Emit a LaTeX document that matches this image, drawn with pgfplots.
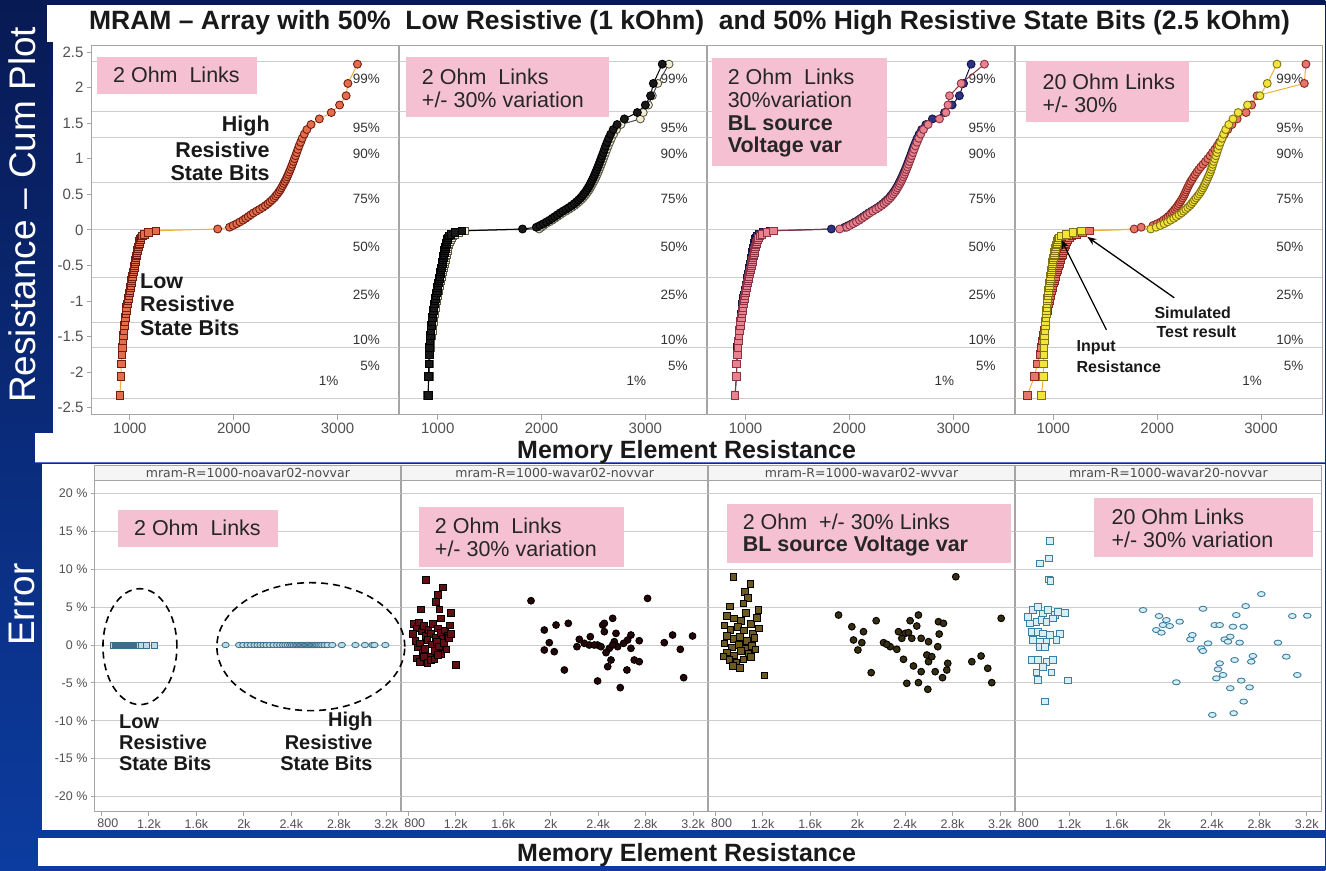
\documentclass[border=0pt]{standalone}
\usepackage{fontspec}
\setmainfont{Liberation Sans}
\newfontfamily\dejavu{DejaVu Sans}
\usepackage{pgfplots}
\pgfplotsset{compat=1.18}
\usepackage{pgfplotstable}
\usetikzlibrary{arrows.meta}

\definecolor{navyA}{RGB}{8,26,84}
\definecolor{navyB}{RGB}{12,60,160}
\definecolor{bline}{RGB}{80,115,200}
\definecolor{linkpink}{RGB}{245,192,210}
\definecolor{gridgray}{RGB}{205,205,205}
\definecolor{framegray}{RGB}{165,165,165}
\definecolor{tickgray}{RGB}{80,80,80}
\definecolor{or1}{RGB}{228,110,74}
\definecolor{or1d}{RGB}{115,28,18}
\definecolor{or1l}{RGB}{240,176,64}
\definecolor{cream}{RGB}{243,238,212}
\definecolor{creamd}{RGB}{90,90,70}
\definecolor{nv}{RGB}{44,50,130}
\definecolor{nvd}{RGB}{20,22,70}
\definecolor{pk}{RGB}{232,130,140}
\definecolor{pkd}{RGB}{140,50,70}
\definecolor{yl}{RGB}{242,228,58}
\definecolor{yld}{RGB}{130,115,20}
\definecolor{sal}{RGB}{228,118,108}
\definecolor{sald}{RGB}{140,40,30}
\definecolor{lb}{RGB}{184,220,232}
\definecolor{lbd}{RGB}{58,110,138}
\definecolor{mar}{RGB}{96,16,18}
\definecolor{olv}{RGB}{110,90,30}
\definecolor{vlb}{RGB}{216,238,245}
\definecolor{vlbd}{RGB}{60,126,160}

% cumulative plot: q = normal quantile, a = panel 1, b1/b2 panel 2 (black/cream),
% c1/c2 panel 3 (navy/pink), d1/d2 panel 4 (yellow input / pink simulated), z = error of panel 1
\pgfplotstableread{
q a b1 b2 c1 c2 d1 d2 z
-2.3301 904 911 904 900 897 885 750 0
-2.0591 915 911 918 912 913 904 817 0
-1.8860 918 914 922 916 915 906 846 0
-1.7559 925 918 926 921 920 908 870 0
-1.6502 928 921 930 925 926 910 885 0
-1.5601 935 926 936 930 932 913 895 0
-1.4813 940 931 942 936 938 916 905 0
-1.4107 945 936 948 941 944 919 912 0
-1.3465 948 940 953 945 949 922 918 0
-1.2875 952 945 958 950 954 925 924 0
-1.2325 958 950 963 955 959 928 930 0
-1.1811 962 955 968 960 964 931 936 0
-1.1327 966 960 973 964 969 934 942 0
-1.0867 970 965 978 968 974 937 948 0
-1.0429 975 970 983 973 979 940 954 0
-1.0011 980 975 988 978 984 943 960 0
-0.9610 985 980 993 983 989 946 966 0
-0.9223 990 985 998 988 994 949 972 0
-0.8849 995 990 1003 993 999 952 978 0
-0.8488 1000 995 1008 998 1004 955 984 0
-0.8137 1005 1000 1013 1003 1009 958 990 0
-0.7797 1010 1004 1018 1008 1014 961 996 0
-0.7464 1014 1008 1023 1012 1019 964 1002 0
-0.7140 1018 1012 1028 1016 1024 967 1008 0
-0.6824 1022 1016 1033 1020 1029 970 1014 0
-0.6513 1026 1020 1038 1024 1034 973 1020 0
-0.6209 1030 1024 1043 1028 1039 976 1026 0
-0.5911 1034 1028 1048 1032 1044 979 1032 0
-0.5618 1038 1032 1052 1036 1048 982 1038 0
-0.5330 1042 1036 1056 1040 1052 985 1044 0
-0.5047 1046 1040 1060 1044 1056 988 1050 0
-0.4766 1050 1044 1064 1048 1060 991 1056 0
-0.4490 1053 1047 1068 1051 1064 994 1062 0
-0.4217 1056 1050 1072 1054 1068 997 1068 0
-0.3947 1060 1054 1076 1058 1072 1000 1074 0
-0.3680 1063 1057 1080 1061 1076 1004 1080 0
-0.3416 1067 1061 1084 1065 1080 1008 1086 0
-0.3154 1070 1064 1088 1068 1084 1012 1092 0
-0.2894 1074 1068 1092 1072 1088 1016 1098 0
-0.2636 1078 1072 1096 1076 1092 1020 1104 0
-0.2380 1082 1076 1100 1080 1096 1024 1110 0
-0.2125 1086 1080 1105 1084 1101 1028 1116 0
-0.1873 1090 1084 1110 1088 1106 1033 1122 0
-0.1621 1095 1088 1116 1093 1112 1038 1130 0
-0.1370 1100 1093 1122 1098 1118 1044 1140 0
-0.1119 1108 1100 1130 1105 1126 1055 1155 0
-0.0870 1120 1110 1142 1115 1138 1080 1180 0
-0.0621 1140 1128 1165 1135 1160 1125 1220 0
-0.0372 1180 1165 1205 1175 1205 1190 1280 0
-0.0124 1250 1235 1262 1240 1269 1270 1350 0
0.0124 1846 1817 1978 1827 1907 1939 1779 0
0.0372 1960 1950 2000 1955 1975 1990 1846 0
0.0621 1995 1985 2020 1990 2005 2030 1960 0
0.0870 2030 2018 2045 2025 2038 2067 2000 0
0.1119 2060 2048 2075 2055 2068 2100 2035 0
0.1370 2090 2078 2105 2085 2098 2130 2060 0
0.1621 2115 2103 2130 2110 2122 2160 2085 0
0.1873 2140 2128 2155 2135 2147 2185 2105 0
0.2125 2165 2153 2180 2160 2172 2210 2125 0
0.2380 2190 2178 2205 2185 2197 2235 2140 0
0.2636 2220 2206 2235 2214 2226 2255 2155 0
0.2894 2250 2236 2265 2244 2256 2275 2170 0
0.3154 2280 2264 2293 2273 2285 2295 2185 0
0.3416 2305 2290 2318 2298 2310 2315 2198 0
0.3680 2330 2315 2342 2322 2334 2330 2210 0
0.3947 2350 2336 2362 2343 2355 2345 2222 0
0.4217 2370 2356 2382 2363 2375 2360 2234 0
0.4490 2390 2376 2401 2383 2394 2375 2246 0
0.4766 2405 2392 2416 2398 2410 2390 2256 0
0.5047 2420 2407 2431 2413 2425 2405 2265 0
0.5330 2435 2422 2446 2428 2440 2418 2274 0
0.5618 2448 2436 2459 2441 2453 2430 2283 0
0.5911 2460 2448 2471 2453 2465 2442 2292 0
0.6209 2472 2460 2483 2465 2477 2452 2302 0
0.6513 2483 2471 2494 2476 2488 2462 2313 0
0.6824 2494 2482 2505 2487 2499 2472 2325 0
0.7140 2505 2493 2516 2498 2510 2482 2338 0
0.7464 2515 2503 2526 2508 2520 2492 2352 0
0.7797 2525 2513 2536 2518 2530 2502 2367 0
0.8137 2535 2523 2546 2528 2540 2512 2383 0
0.8488 2545 2533 2556 2538 2550 2520 2400 0
0.8849 2555 2543 2566 2548 2560 2528 2420 0
0.9223 2565 2553 2576 2558 2570 2536 2442 0
0.9610 2575 2563 2586 2568 2580 2545 2465 0
1.0011 2585 2573 2596 2578 2590 2555 2488 0
1.0429 2596 2584 2607 2589 2601 2565 2510 0
1.0867 2607 2595 2618 2600 2612 2575 2532 0
1.1327 2618 2606 2630 2611 2624 2585 2555 0
1.1811 2630 2618 2643 2623 2637 2597 2578 0
1.2325 2645 2632 2658 2638 2652 2610 2600 0
1.2875 2660 2647 2674 2653 2668 2625 2625 0
1.3465 2680 2666 2695 2672 2688 2640 2648 0
1.4107 2705 2690 2722 2697 2714 2660 2680 0
1.4813 2745 2728 2765 2738 2758 2690 2720 0
1.5601 2825 2798 2952 2800 2868 2730 2770 0
1.6502 2940 2923 2980 2917 2930 2780 2856 0
1.7559 3020 3000 3030 2990 2950 2870 2910 0
1.8860 3083 3050 3067 3060 2965 2990 2962 0
2.0591 3100 3077 3120 3100 3077 3060 3417 0
2.3301 3192 3163 3228 3173 3301 3154 3433 0
}\toptab

% error panel 2 (2 Ohm +/-30%): low bits (squares) and high bits (circles)
\pgfplotstableread{
R e
950 8.6
1090 7.6
1048 6.6
1034 5.7
908 4.7
1062 4.7
1160 4.2
1076 3.5
1201 -2.6
850 2.8
870 2.2
890 3.0
910 1.8
930 2.5
950 1.2
970 2.0
990 1.5
1010 2.8
1030 1.0
1050 2.2
1070 1.6
1090 0.8
1110 1.9
1130 1.2
1150 2.6
860 0.5
880 -0.3
900 0.2
920 -1.0
940 -0.5
960 0.7
980 -1.5
1000 0.1
1020 -0.8
1040 0.4
1060 -0.2
1080 -1.2
1100 0.3
1120 -0.6
1140 0.9
870 -1.8
900 -2.2
930 -1.6
960 -2.4
990 -2.0
1020 -1.9
1050 -1.3
1160 1.5
840 1.5
}\etwosq
\pgfplotstableread{
R e
1834 5.85
2816 6.16
1946 1.98
2045 2.64
2148 2.86
1988 0.31
1946 -0.66
2030 -0.88
2115 -3.30
2241 0.75
2221 -0.22
2334 1.10
2325 0.00
2395 0.00
2438 2.64
2522 3.52
2452 1.76
2494 -0.44
2550 1.54
2564 -0.22
2508 -1.98
2480 -2.86
2395 -4.75
2586 -5.63
2642 -3.30
2676 -0.44
2676 1.32
2746 0.57
2704 -1.98
2746 -2.20
2957 0.31
3027 1.32
3092 -0.57
3195 1.19
3120 -4.31
2424 -0.22
2466 -1.01
2536 0.44
2648 0.66
2283 0.22
2367 0.00
2452 2.86
2614 0.22
2522 0.00
}\etwoci

% error panel 3 (2 Ohm +/-30%, BL source voltage var)
\pgfplotstableread{
R e
956 9.0
1096 8.1
1050 7.0
1075 6.2
1040 5.5
927 5.1
1166 4.6
1060 4.2
900 3.8
960 3.5
1020 3.2
1100 2.8
1150 3.6
880 2.6
930 2.0
990 2.4
1045 1.9
1120 1.5
1170 2.2
900 1.2
960 0.8
1010 1.1
1070 0.5
1130 0.9
880 0.2
940 -0.3
1000 0.0
1060 -0.5
1110 -0.1
900 -1.0
960 -1.4
1020 -0.8
1080 -1.2
920 -2.0
980 -2.4
1040 -1.9
1100 -1.6
950 -2.8
1010 -3.0
1217 -4.0
870 -1.5
1140 -0.6
}\ethreesq
\pgfplotstableread{
R e
2828 9.02
1840 3.96
2157 3.21
1952 2.42
2050 1.76
1966 0.66
2036 0.31
2003 -0.66
2115 -3.65
2219 0.31
2275 -0.22
2331 -0.57
2345 1.76
2401 1.54
2443 3.21
2513 3.96
2499 2.51
2457 0.88
2536 0.88
2598 0.44
2682 3.08
2724 2.86
2688 1.45
2676 -0.22
2387 -1.89
2471 -2.77
2536 -3.52
2415 -5.06
2513 -4.97
2592 -5.85
2598 -2.20
2654 -3.52
2716 -4.31
2760 -2.42
2752 -3.30
2963 -2.20
3041 -1.45
3097 -3.08
3131 -4.97
3210 3.52
2584 -1.32
2626 -1.54
2247 0.09
2373 0.88
2429 1.63
}\ethreeci

% error panel 4 (20 Ohm +/-30%)
\pgfplotstableread{
R e
852 3.74
894 4.62
936 5.06
978 4.18
1020 4.62
1076 3.96
1104 4.40
1160 4.27
866 2.86
922 3.08
964 3.30
1006 3.08
1062 3.52
880 1.76
936 1.76
978 1.54
1034 1.32
1118 1.45
894 0.66
950 0.44
1006 0.44
1090 0.66
950 -0.22
992 -0.22
880 -1.98
936 -1.98
1006 -2.20
1062 -1.98
978 -2.86
922 -3.65
1048 -3.65
936 -4.62
1189 -4.70
992 -7.47
1034 13.77
950 10.78
1029 11.44
1029 8.67
1040 8.49
}\efoursq
\pgfplotstableread{
R e
1820 4.62
1955 3.83
2017 3.30
2129 3.08
1988 2.64
2045 2.51
1932 1.98
1975 1.63
2101 -4.92
2325 4.79
2219 0.75
2236 1.32
2311 -0.44
2368 0.22
2325 -0.79
2424 2.64
2466 2.64
2578 2.42
2606 3.96
2685 5.15
2668 2.42
2817 6.73
2508 0.75
2536 0.44
2634 0.31
2555 1.10
2466 -2.42
2452 -3.21
2438 -4.40
2494 -3.96
2592 -1.98
2746 -1.45
2732 -2.20
2648 -4.70
2718 -5.59
2555 -5.71
2668 -7.47
2404 -9.23
2584 -9.01
2957 0.31
3027 -1.54
3120 -3.96
3078 3.83
3204 3.87
}\efourci

\tikzset{
  gridl/.style={draw=gridgray, line width=0.9pt},
  pctl/.style={anchor=east, inner sep=0pt, text=black!80, font=\fontsize{13.5}{14}\selectfont},
  pinkt/.style={anchor=west, inner sep=0pt, text=black!85, font=\fontsize{21.5}{24}\selectfont},
  boldt/.style={inner sep=0pt, text=black!90, font=\fontsize{21.5}{24}\selectfont\bfseries},
  boldb/.style={inner sep=0pt, text=black!90, font=\fontsize{20}{22}\selectfont\bfseries},
  smallb/.style={inner sep=0pt, text=black!90, font=\fontsize{16}{18}\selectfont\bfseries},
  hdr/.style={inner sep=0pt, text=black!70, font=\dejavu\fontsize{12.5}{13}\selectfont},
}

\pgfplotsset{
  topax/.style={
    scale only axis, width=307pt, height=370pt,
    xmin=635, xmax=3590, ymin=-2.6, ymax=2.6, clip=false,
    axis line style={draw=framegray, line width=0.9pt},
    xtick={1000,2000,3000}, xticklabels={1000,2000,3000},
    ytick=\empty, xtick pos=bottom, ytick pos=left,
    tick align=outside, major tick length=5pt,
    tick style={draw=framegray, line width=0.9pt},
    tick label style={font=\fontsize{15}{15}\selectfont, text=tickgray},
  },
  botax/.style={
    scale only axis, width=306pt, height=331pt,
    xmin=745, xmax=3322, ymin=-22, ymax=21.7, clip=false,
    axis line style={draw=framegray, line width=0.9pt},
    xtick={800,1200,1600,2000,2400,2800,3200},
    xticklabels={\makebox[0pt][l]{\hspace{-4pt}800},1.2k,1.6k,2k,2.4k,2.8k,3.2k},
    ytick=\empty, xtick pos=bottom, ytick pos=left,
    tick align=outside, major tick length=4pt,
    tick style={draw=framegray, line width=0.9pt},
    tick label style={font=\fontsize{12.5}{13}\selectfont, text=tickgray},
  },
}

\newcommand{\topgrid}{\pgfplotsinvokeforeach{-2.37,-1.66,-1.30,-0.67,0,0.67,1.30,1.66,2.37}{\draw[gridl] (axis cs:635,##1) -- (axis cs:3590,##1);}}
\newcommand{\botgrid}{\pgfplotsinvokeforeach{-20,-15,-10,-5,0,5,10,15,20}{\draw[gridl] (axis cs:745,##1) -- (axis cs:3322,##1);}}
\newcommand{\pct}{%
  \node[pctl] at (axis cs:3410,2.13) {99\%};
  \node[pctl] at (axis cs:3410,1.43) {95\%};
  \node[pctl] at (axis cs:3410,1.07) {90\%};
  \node[pctl] at (axis cs:3410,0.44) {75\%};
  \node[pctl] at (axis cs:3410,-0.24) {50\%};
  \node[pctl] at (axis cs:3410,-0.91) {25\%};
  \node[pctl] at (axis cs:3410,-1.54) {10\%};
  \node[pctl] at (axis cs:3410,-1.91) {5\%};
  \node[pctl] at (axis cs:3010,-2.12) {1\%};
}
\newcommand{\topseries}[4]{%
  \addplot[draw=#4, line width=1pt, no marks] table[x=#1,y=q]{\toptab};
  \addplot[only marks, mark=square*, mark size=3.8pt, mark options={fill=#2,draw=#3,line width=0.9pt}, skip coords between index={50}{100}] table[x=#1,y=q]{\toptab};
  \addplot[only marks, mark=*, mark size=4pt, mark options={fill=#2,draw=#3,line width=0.9pt}, skip coords between index={0}{50}] table[x=#1,y=q]{\toptab};
}

\begin{document}
\begin{tikzpicture}
% background
\shade[top color=navyA, bottom color=navyB] (0pt,0pt) rectangle (1326pt,-871pt);
\fill[white] (47pt,-5pt) rectangle (1326pt,-42pt);
\fill[white] (53pt,-42pt) rectangle (1326pt,-433pt);
\fill[white] (35pt,-433pt) rectangle (1326pt,-462pt);
\draw[bline, line width=1.5pt] (35pt,-463pt) -- (1326pt,-463pt);
\fill[white] (42pt,-464pt) rectangle (1326pt,-830pt);
\fill[white] (38pt,-838pt) rectangle (1326pt,-866pt);

% side labels
\node[rotate=90, text=white, font=\fontsize{37}{40}\selectfont, inner sep=0pt] at (22pt,-215pt) {Resistance -- Cum Plot};
\node[rotate=90, text=white, font=\fontsize{37}{40}\selectfont, inner sep=0pt] at (22pt,-605pt) {Error};

% title
\node[font=\fontsize{26.5}{30}\selectfont\bfseries, text=black!90, inner sep=0pt] at (690pt,-23pt)
  {MRAM -- Array with 50\%~ Low Resistive (1 kOhm) ~and 50\% High Resistive State Bits (2.5 kOhm)};

% ---------- top panels ----------
\begin{axis}[topax, at={(92pt,-45pt)}, anchor=north west,
  ytick={-2.5,-2,-1.5,-1,-0.5,0,0.5,1,1.5,2,2.5},
  yticklabels={-2.5,-2,-1.5,-1,-0.5,0,0.5,1,1.5,2,2.5}]
  \topgrid \pct
  \topseries{a}{or1}{or1d}{or1l}
\end{axis}
\begin{axis}[topax, at={(400pt,-45pt)}, anchor=north west]
  \topgrid \pct
  \topseries{b2}{cream}{creamd}{black!70}
  \topseries{b1}{black!90}{black}{black}
\end{axis}
\begin{axis}[topax, at={(708pt,-45pt)}, anchor=north west]
  \topgrid \pct
  \topseries{c1}{nv}{nvd}{nvd}
  \topseries{c2}{pk}{pkd}{pkd}
\end{axis}
\begin{axis}[topax, at={(1016pt,-45pt)}, anchor=north west]
  \topgrid \pct
  \topseries{d2}{sal}{sald}{or1l}
  \topseries{d1}{yl}{yld}{or1l}
\end{axis}

\node[font=\fontsize{25}{28}\selectfont\bfseries, text=black!90, inner sep=0pt] at (687pt,-452pt) {Memory Element Resistance};

% ---------- bottom panels ----------
\foreach \L/\T in {95/mram-R=1000-noavar02-novvar, 402/mram-R=1000-wavar02-novvar, 709/mram-R=1000-wavar02-wvvar, 1016/mram-R=1000-wavar20-novvar}{
  \filldraw[fill=black!4, draw=framegray, line width=0.9pt] (\L pt,-466pt) rectangle ({\L pt+306pt},-481pt);
  \node[hdr] at ({\L pt+153pt},-473.5pt) {\T};
}

\begin{axis}[botax, at={(95pt,-481pt)}, anchor=north west,
  ytick={-20,-15,-10,-5,0,5,10,15,20},
  yticklabels={-20 \%,-15 \%,-10 \%,-5 \%,0 \%,5 \%,10 \%,15 \%,20 \%}]
  \botgrid
  \addplot[only marks, mark=square*, mark size=3pt, mark options={fill=lb,draw=lbd,line width=0.8pt}, skip coords between index={50}{100}] table[x=a,y=z]{\toptab};
  \addplot[only marks, mark=*, mark size=3.2pt, mark options={fill=lb,draw=lbd,line width=0.8pt,xscale=1.15,yscale=0.85}, skip coords between index={0}{50}] table[x=a,y=z]{\toptab};
\end{axis}
\begin{axis}[botax, at={(402pt,-481pt)}, anchor=north west]
  \botgrid
  \addplot[only marks, mark=square*, mark size=3.3pt, mark options={fill=mar,draw=black,line width=0.9pt}] table[x=R,y=e]{\etwosq};
  \addplot[only marks, mark=*, mark size=3.4pt, mark options={fill=mar!40!black,draw=black,line width=0.9pt}] table[x=R,y=e]{\etwoci};
\end{axis}
\begin{axis}[botax, at={(709pt,-481pt)}, anchor=north west]
  \botgrid
  \addplot[only marks, mark=square*, mark size=3.3pt, mark options={fill=olv,draw=black,line width=0.9pt}] table[x=R,y=e]{\ethreesq};
  \addplot[only marks, mark=*, mark size=3.4pt, mark options={fill=olv!50!black,draw=black,line width=0.9pt}] table[x=R,y=e]{\ethreeci};
\end{axis}
\begin{axis}[botax, at={(1016pt,-481pt)}, anchor=north west]
  \botgrid
  \addplot[only marks, mark=square*, mark size=3.3pt, mark options={fill=vlb,draw=vlbd,line width=0.9pt}] table[x=R,y=e]{\efoursq};
  \addplot[only marks, mark=*, mark size=3.2pt, mark options={fill=vlb,draw=vlbd,line width=0.9pt,xscale=1.2,yscale=0.8}] table[x=R,y=e]{\efourci};
\end{axis}

\node[font=\fontsize{25}{28}\selectfont\bfseries, text=black!90, inner sep=0pt] at (687pt,-856pt) {Memory Element Resistance};

% ---------- pink boxes, top ----------
\fill[linkpink] (97pt,-57pt) rectangle (257pt,-94pt);
\node[pinkt] at (113pt,-75pt) {2 Ohm~ Links};
\fill[linkpink] (406pt,-57pt) rectangle (609pt,-117pt);
\node[pinkt] at (422pt,-77pt) {2 Ohm~ Links};
\node[pinkt] at (422pt,-100pt) {+/- 30\% variation};
\fill[linkpink] (712pt,-58pt) rectangle (887pt,-166pt);
\node[pinkt] at (728pt,-77pt) {2 Ohm~ Links};
\node[pinkt] at (728pt,-100pt) {30\%variation};
\node[pinkt, font=\fontsize{21.5}{24}\selectfont\bfseries] at (728pt,-123pt) {BL source};
\node[pinkt, font=\fontsize{21.5}{24}\selectfont\bfseries] at (728pt,-147pt) {Voltage var};
\fill[linkpink] (1027pt,-61pt) rectangle (1190pt,-122pt);
\node[pinkt] at (1043pt,-82pt) {20 Ohm Links};
\node[pinkt] at (1043pt,-105pt) {+/- 30\%};

% top annotations
\node[boldt, anchor=east] at (270pt,-126pt) {High};
\node[boldt, anchor=east] at (270pt,-150pt) {Resistive};
\node[boldt, anchor=east] at (270pt,-173pt) {State Bits};
\node[boldt, anchor=west] at (140pt,-281pt) {Low};
\node[boldt, anchor=west] at (140pt,-304pt) {Resistive};
\node[boldt, anchor=west] at (140pt,-328pt) {State Bits};
\node[smallb, anchor=west] at (1155pt,-313pt) {Simulated};
\node[smallb, anchor=west] at (1157pt,-332pt) {Test result};
\node[smallb, anchor=west] at (1077pt,-348pt) {Input};
\node[smallb, anchor=west] at (1077pt,-367pt) {Resistance};
\draw[-{Stealth[length=9pt,width=7pt]}, line width=1.3pt] (1107pt,-330pt) -- (1062pt,-240pt);
\draw[-{Stealth[length=9pt,width=7pt]}, line width=1.3pt] (1175pt,-298pt) -- (1088pt,-237pt);

% ---------- pink boxes, bottom ----------
\fill[linkpink] (118pt,-510pt) rectangle (278pt,-547pt);
\node[pinkt] at (134pt,-528pt) {2 Ohm~ Links};
\fill[linkpink] (419pt,-507pt) rectangle (624pt,-567pt);
\node[pinkt] at (435pt,-526pt) {2 Ohm~ Links};
\node[pinkt] at (435pt,-549pt) {+/- 30\% variation};
\fill[linkpink] (727pt,-504pt) rectangle (1012pt,-563pt);
\node[pinkt] at (743pt,-522pt) {2 Ohm~ +/- 30\% Links};
\node[pinkt, font=\fontsize{21.5}{24}\selectfont\bfseries] at (743pt,-546pt) {BL source Voltage var};
\fill[linkpink] (1095pt,-498pt) rectangle (1314pt,-557pt);
\node[pinkt] at (1112pt,-517pt) {20 Ohm Links};
\node[pinkt] at (1112pt,-540pt) {+/- 30\% variation};

% bottom annotations
\draw[dashed, dash pattern=on 7pt off 5pt, line width=1.6pt] (140pt,-647pt) ellipse [x radius=37pt, y radius=58pt];
\draw[dashed, dash pattern=on 7pt off 5pt, line width=1.6pt] (311pt,-647pt) ellipse [x radius=94pt, y radius=64pt];
\node[boldb, anchor=west] at (119pt,-722pt) {Low};
\node[boldb, anchor=west] at (119pt,-743pt) {Resistive};
\node[boldb, anchor=west] at (119pt,-764pt) {State Bits};
\node[boldb, anchor=east] at (373pt,-722pt) {High};
\node[boldb, anchor=east] at (373pt,-743pt) {Resistive};
\node[boldb, anchor=east] at (373pt,-764pt) {State Bits};
\end{tikzpicture}
\end{document}
